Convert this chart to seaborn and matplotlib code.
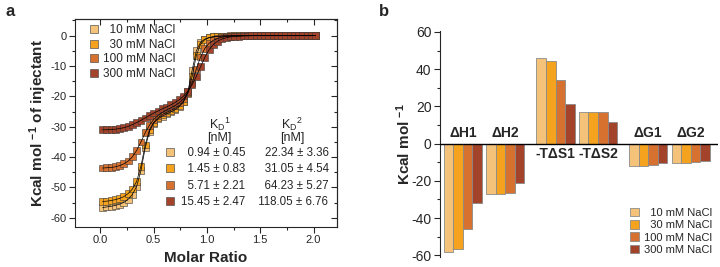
import numpy as np
import pandas as pd
import seaborn as sns
import matplotlib.pyplot as plt
from matplotlib.lines import Line2D
from matplotlib.patches import Patch
from matplotlib.ticker import MultipleLocator

# ---------------- dados ----------------
conditions = ['10 mM NaCl', '30 mM NaCl', '100 mM NaCl', '300 mM NaCl']
colors = ['#F5C27A', '#F5A31F', '#D7712F', '#A3432A']

# painel a: isotermas ITC (kcal/mol de injetante vs razão molar)
molar_ratio = [
    0.02, 0.06, 0.10, 0.14, 0.18, 0.22, 0.26, 0.30, 0.34, 0.38,
    0.42, 0.46, 0.50, 0.54, 0.58, 0.62, 0.66, 0.70, 0.74, 0.78,
    0.82, 0.86, 0.90, 0.94, 0.98, 1.02, 1.06, 1.10, 1.14, 1.18,
    1.22, 1.26, 1.30, 1.34, 1.38, 1.42, 1.46, 1.50, 1.54, 1.58,
    1.62, 1.66, 1.70, 1.74, 1.78, 1.82, 1.86, 1.90, 1.94, 1.98,
    2.02]
heat_10 = [
    -56.6, -56.4, -56.2, -55.9, -55.5, -54.9, -53.9, -52.3, -49.6, -44.5,
    -37.0, -31.5, -28.8, -27.4, -26.5, -25.8, -25.1, -24.4, -23.4, -21.8,
    -18.5, -11.5, -5.0, -2.2, -1.1, -0.6, -0.3, -0.2, -0.1, -0.1,
    -0.1, 0.0, 0.0, 0.0, 0.0, 0.0, 0.0, 0.0, 0.0, 0.0,
    0.0, 0.0, 0.0, 0.0, 0.0, 0.0, 0.0, 0.0, 0.0, 0.0,
    0.0]
heat_30 = [
    -54.6, -54.5, -54.3, -54.0, -53.6, -53.0, -52.0, -50.5, -48.0, -43.0,
    -36.0, -31.0, -28.5, -27.0, -26.0, -25.3, -24.6, -23.9, -23.0, -21.6,
    -19.0, -13.5, -6.5, -2.8, -1.3, -0.7, -0.4, -0.2, -0.1, -0.1,
    0.0, 0.0, 0.0, 0.0, 0.0, 0.0, 0.0, 0.0, 0.0, 0.0,
    0.0, 0.0, 0.0, 0.0, 0.0, 0.0, 0.0, 0.0, 0.0, 0.0,
    0.0]
heat_100 = [
    -43.6, -43.5, -43.4, -43.2, -42.8, -42.2, -41.3, -39.9, -37.8, -35.0,
    -32.0, -29.5, -27.6, -26.3, -25.3, -24.5, -23.8, -23.0, -22.1, -20.8,
    -18.8, -15.5, -11.0, -7.0, -4.2, -2.5, -1.5, -0.9, -0.5, -0.3,
    -0.2, -0.1, -0.1, 0.0, 0.0, 0.0, 0.0, 0.0, 0.0, 0.0,
    0.0, 0.0, 0.0, 0.0, 0.0, 0.0, 0.0, 0.0, 0.0, 0.0,
    0.0]
heat_300 = [
    -31.0, -31.0, -30.9, -30.8, -30.6, -30.3, -29.9, -29.3, -28.6, -27.9,
    -27.1, -26.3, -25.5, -24.8, -24.1, -23.5, -22.8, -22.0, -21.1, -19.9,
    -18.3, -16.2, -13.4, -10.2, -7.1, -4.6, -2.9, -1.8, -1.1, -0.7,
    -0.4, -0.3, -0.2, -0.1, -0.1, 0.0, 0.0, 0.0, 0.0, 0.0,
    0.0, 0.0, 0.0, 0.0, 0.0, 0.0, 0.0, 0.0, 0.0, 0.0,
    0.0]

# constantes de dissociação (nM)
kd1 = ['0.94', '1.45', '5.71', '15.45']
kd1_err = ['0.45', '0.83', '2.21', '2.47']
kd2 = ['22.34', '31.05', '64.23', '118.05']
kd2_err = ['3.36', '4.54', '5.27', '6.76']

# painel b: termos termodinâmicos (kcal/mol)
terms = ['ΔH1', 'ΔH2', '-TΔS1', '-TΔS2', 'ΔG1', 'ΔG2']
term_10 = [-58.5, -27.2, 46.0, 16.7, -12.2, -10.4]
term_30 = [-56.4, -26.9, 44.2, 16.7, -12.0, -10.2]
term_100 = [-45.7, -26.3, 34.4, 16.7, -11.3, -9.9]
term_300 = [-31.7, -21.0, 21.0, 11.6, -10.7, -9.5]

# posições dos grupos no eixo x (layout)
group_pos = [0, 1, 2.18, 3.18, 4.36, 5.36]

# ---------------- estilo ----------------
sns.set_style('ticks')
plt.rcParams['font.family'] = ['Liberation Sans', 'DejaVu Sans']
plt.rcParams['mathtext.default'] = 'regular'
plt.rcParams['axes.unicode_minus'] = False

fig = plt.figure(figsize=(7.2, 2.67), dpi=100)
ax1 = fig.add_axes([0.104, 0.150, 0.364, 0.779])
ax2 = fig.add_axes([0.611, 0.037, 0.386, 0.847])

# ---------------- painel a ----------------
itc = pd.DataFrame({
    'Molar Ratio': molar_ratio * 4,
    'heat': heat_10 + heat_30 + heat_100 + heat_300,
    'NaCl': np.repeat(conditions, len(molar_ratio)),
})

sns.scatterplot(data=itc, x='Molar Ratio', y='heat', hue='NaCl', palette=colors,
                marker='s', s=24, edgecolor='#3a3a3a', linewidth=0.4,
                legend=False, ax=ax1, zorder=2)
sns.lineplot(data=itc, x='Molar Ratio', y='heat', units='NaCl', estimator=None,
             color='black', lw=0.5, legend=False, ax=ax1, zorder=3)

ax1.set_xlim(-0.24, 2.22)
ax1.set_ylim(-63, 5.5)
ax1.xaxis.set_major_locator(MultipleLocator(0.5))
ax1.xaxis.set_minor_locator(MultipleLocator(0.25))
ax1.yaxis.set_major_locator(MultipleLocator(10))
ax1.yaxis.set_minor_locator(MultipleLocator(5))
ax1.tick_params(which='major', direction='out', length=4, width=0.8, labelsize=8, pad=2)
ax1.tick_params(which='minor', direction='out', length=2, width=0.8)
for sp in ax1.spines.values():
    sp.set_linewidth(0.8)

# ticks espelhados (para dentro) no topo e à direita
top = ax1.secondary_xaxis('top')
top.xaxis.set_major_locator(MultipleLocator(0.5))
top.xaxis.set_minor_locator(MultipleLocator(0.25))
top.tick_params(which='both', direction='in', labeltop=False, width=0.8)
top.tick_params(which='major', length=4)
top.tick_params(which='minor', length=2)
right = ax1.secondary_yaxis('right')
right.yaxis.set_major_locator(MultipleLocator(10))
right.yaxis.set_minor_locator(MultipleLocator(5))
right.tick_params(which='both', direction='in', labelright=False, width=0.8)
right.tick_params(which='major', length=4)
right.tick_params(which='minor', length=2)

ax1.set_xlabel('Molar Ratio', fontsize=11, fontweight='bold', labelpad=4)
ax1.set_ylabel('Kcal mol $^{-1}$ of injectant', fontsize=11, fontweight='bold', labelpad=1)

handles = [Line2D([], [], marker='s', ls='', markerfacecolor=c, markeredgecolor='#555555',
                  markeredgewidth=0.5, markersize=6) for c in colors]
labels = ['  10 mM NaCl', '  30 mM NaCl', '100 mM NaCl', '300 mM NaCl']
leg1 = ax1.legend(handles, labels, loc='upper left', bbox_to_anchor=(0.055, 0.975),
                  frameon=False, fontsize=8.5, handlelength=0.8, handletextpad=0.4,
                  labelspacing=0.22, borderaxespad=0, borderpad=0)
ax1.add_artist(leg1)


def pad(txt, width):
    return '  ' * (width - len(txt)) + txt


table_labels = [pad(a, 5) + ' ± ' + b + '    ' + pad(c, 6) + ' ± ' + d
                for a, b, c, d in zip(kd1, kd1_err, kd2, kd2_err)]
ax1.legend(handles, table_labels, loc='lower left', bbox_to_anchor=(0.345, 0.09),
           frameon=False, fontsize=8.3, handlelength=0.8, handletextpad=0.6,
           labelspacing=0.38, borderaxespad=0, borderpad=0)
ax1.text(0.553, 0.495, 'K$_D$$^1$', transform=ax1.transAxes, ha='center', va='center', fontsize=9)
ax1.text(0.553, 0.43, '[nM]', transform=ax1.transAxes, ha='center', va='center', fontsize=9)
ax1.text(0.828, 0.495, 'K$_D$$^2$', transform=ax1.transAxes, ha='center', va='center', fontsize=9)
ax1.text(0.828, 0.43, '[nM]', transform=ax1.transAxes, ha='center', va='center', fontsize=9)

# ---------------- painel b ----------------
bars = pd.DataFrame({
    'pos': group_pos * 4,
    'value': term_10 + term_30 + term_100 + term_300,
    'NaCl': np.repeat(conditions, len(terms)),
})
sns.barplot(data=bars, x='pos', y='value', hue='NaCl', hue_order=conditions,
            palette=colors, saturation=1, native_scale=True, width=0.9, errorbar=None,
            edgecolor='#8a8a8a', linewidth=0.6, legend=False, ax=ax2)

ax2.axhline(0, color='black', lw=1, zorder=5)
ax2.set_xlim(-0.54, 6.0)
ax2.set_ylim(-61, 60.5)
ax2.set_xticks([])
ax2.set_xlabel('')
ax2.yaxis.set_major_locator(MultipleLocator(20))
ax2.yaxis.set_minor_locator(MultipleLocator(10))
ax2.tick_params(which='major', direction='out', length=4, width=0.8, labelsize=10, pad=2)
ax2.tick_params(which='minor', direction='out', length=2, width=0.8)
for s in ['top', 'right', 'bottom']:
    ax2.spines[s].set_visible(False)
ax2.spines['left'].set_linewidth(0.8)
ax2.set_ylabel('Kcal mol $^{-1}$', fontsize=11, fontweight='bold', labelpad=-1)

for p, name, v in zip(group_pos, terms, term_10):
    if v > 0:
        ax2.text(p, -2.0, name, ha='center', va='top', fontsize=10, fontweight='bold')
    else:
        ax2.text(p, 2.0, name, ha='center', va='bottom', fontsize=10, fontweight='bold')

bar_handles = [Patch(facecolor=c, edgecolor='#8a8a8a', linewidth=0.6) for c in colors]
ax2.legend(bar_handles, labels, loc='lower right', bbox_to_anchor=(0.98, 0.01),
           frameon=False, fontsize=8, handlelength=0.8, handleheight=0.8,
           handletextpad=0.5, labelspacing=0.2, borderaxespad=0, borderpad=0)

fig.text(0.008, 0.985, 'a', fontsize=12, fontweight='bold', va='top')
fig.text(0.526, 0.985, 'b', fontsize=12, fontweight='bold', va='top')

fig.savefig('out.png', dpi=100)
